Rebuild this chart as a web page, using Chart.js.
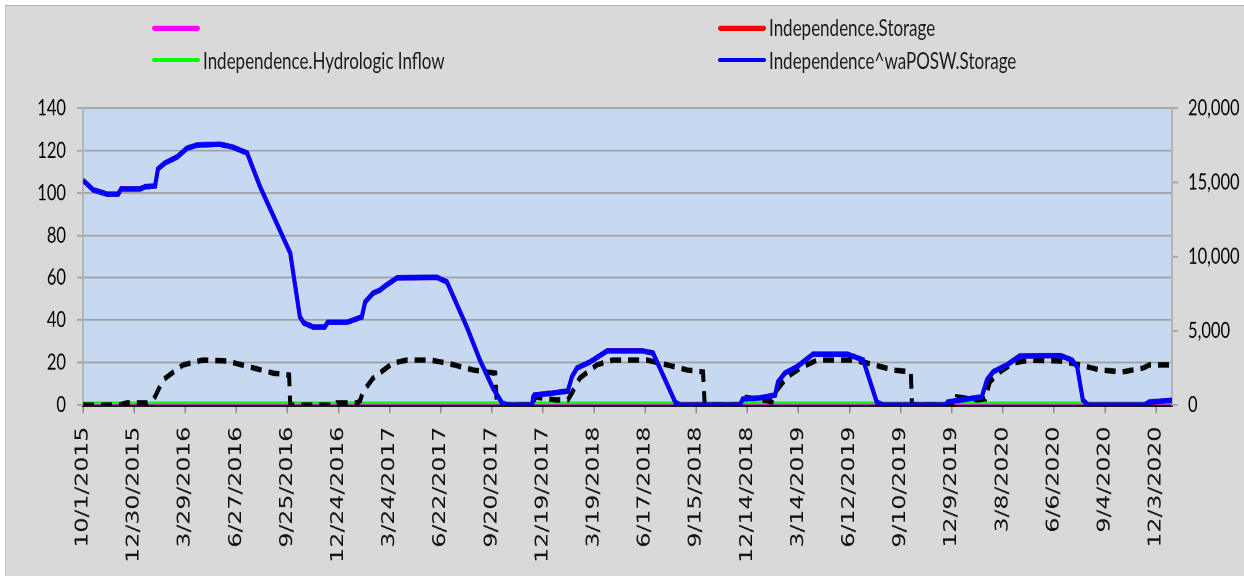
<!DOCTYPE html>
<html><head><meta charset="utf-8">
<script src="https://cdn.jsdelivr.net/npm/chart.js@4.4.1/dist/chart.umd.min.js"></script>
<style>
html,body{margin:0;padding:0;background:#fff;width:1244px;height:576px;overflow:hidden}
#frame{position:absolute;left:5px;top:5px;width:1250px;height:580px;background:#d9d9d9;border-top:1px solid #b4b4b4;border-left:1px solid #c4c4c4;box-sizing:border-box}
#stage{position:absolute;left:0;top:0;width:1244px;height:427px;transform:scaleY(1.349);transform-origin:0 0}
#legend{position:absolute;left:0;top:0;width:1244px;height:70px;font-family:Lato,"Open Sans",sans-serif;font-size:17px;color:#1a1a1a}
.item{position:absolute;display:flex;align-items:center;white-space:nowrap;height:20px}
.sw{width:48px;height:3.6px;border-radius:2px;margin-right:3px}
canvas{position:absolute;left:0;top:0}
</style></head>
<body>
<div id="frame"></div>
<div id="stage"><canvas id="c" width="1244" height="427"></canvas><div id="legend"></div></div>
<script>
// ---- data ----
const startDate = '10/1/2015';
const endDate = '12/31/2020';
const tickLabels = ['10/1/2015','12/30/2015','3/29/2016','6/27/2016','9/25/2016','12/24/2016','3/24/2017','6/22/2017','9/20/2017','12/19/2017','3/19/2018','6/17/2018','9/15/2018','12/14/2018','3/14/2019','6/12/2019','9/10/2019','12/9/2019','3/8/2020','6/6/2020','9/4/2020','12/3/2020'];

// days since 10/1/2015
const storageDays = [0,18,42,62,67,100,109,127,132,144,166,183,201,241,264,289,312,333,361,365,382,389,405,426,431,465,491,497,511,523,535,553,623,641,676,699,722,738,747,791,793,795,827,854,861,870,893,923,986,1004,1043,1051,1157,1162,1192,1219,1224,1236,1257,1286,1346,1374,1398,1409,1520,1523,1545,1583,1592,1603,1627,1650,1721,1742,1751,1761,1770,1870,1878,1914,1918];
// acre-feet (right axis)
const waposwStorage = [15140,14490,14210,14210,14540,14540,14690,14760,15900,16290,16710,17290,17510,17570,17370,16970,14690,12930,10570,10240,5930,5530,5260,5260,5570,5570,5930,6940,7540,7740,8090,8560,8610,8290,5260,3030,1140,140,0,0,540,670,800,940,1890,2490,2900,3640,3640,3500,200,0,0,400,470,670,1540,2140,2560,3430,3430,3030,200,0,0,200,340,540,1690,2230,2700,3300,3330,3030,2570,340,0,0,200,300,300];
const indepStorage = waposwStorage;

const dashedDays = [0,65,77,113,122,127,141,176,211,254,294,335,363,365,444,447,483,488,493,511,546,571,611,641,687,726,729,793,796,833,854,861,875,905,933,993,1029,1064,1092,1095,1157,1162,1196,1213,1222,1240,1263,1293,1351,1381,1427,1458,1460,1536,1539,1576,1589,1597,1615,1638,1668,1721,1756,1791,1831,1867,1878,1918];
const dashedValues = [0,0,1,1,2,4,11.8,18.9,21.2,20.7,17.9,15,14.1,0,0,1,1,2,6.1,12.7,19.8,21.2,21.2,19.8,16.5,15,0,0,3.8,2.4,2.4,5.6,12.7,18.9,21.2,21.2,18.9,16.5,15.6,0,0,3.8,2.4,1.5,7,13.2,17.4,21.2,21.2,19.8,16.5,15.6,0,0,3.8,2.4,2.8,10.8,15.6,19.8,21.2,20.7,18.9,16.5,15.6,17.4,18.9,18.9];

const inflowDays = [0,1918];
const inflowValues = [1,1];
const unnamedDays = [0,1918];
const unnamedValues = [0,0];

const leftTicks = {min:0, max:140, step:20};
const rightTicks = {min:0, max:20000, step:5000};

// ---- helpers ----
function dayOf(s){const [m,d,y]=s.split('/').map(Number);const [m0,d0,y0]=startDate.split('/').map(Number);return Math.round((Date.UTC(y,m-1,d)-Date.UTC(y0,m0-1,d0))/864e5);}
const pts=(xs,ys)=>xs.map((x,i)=>({x:x,y:ys[i]}));

const plotBg={id:'plotBg',beforeDraw(c){const {ctx,chartArea:a}=c;ctx.save();ctx.fillStyle='#c6d9f1';ctx.fillRect(a.left,a.top,a.right-a.left,a.bottom-a.top);ctx.restore();}};

const datasets=[
 {label:'Independence^waPOSW.Storage',data:pts(storageDays,waposwStorage),yAxisID:'y1',borderColor:'#0000ff',borderWidth:4,slot:3},
 {label:'',data:pts(dashedDays,dashedValues),yAxisID:'y',borderColor:'#000000',borderWidth:4,borderDash:[11,7],slot:-1},
 {label:'Independence.Storage',data:pts(storageDays,indepStorage),yAxisID:'y1',borderColor:'#ff0000',borderWidth:4,slot:1},
 {label:'Independence.Hydrologic Inflow',data:pts(inflowDays,inflowValues),yAxisID:'y',borderColor:'#00ff00',borderWidth:2,slot:2},
 {label:'',data:pts(unnamedDays,unnamedValues),yAxisID:'y',borderColor:'#ff00ff',borderWidth:2,slot:0}
];
datasets.forEach(d=>{d.pointRadius=0;d.tension=0;d.fill=false;});

const chart=new Chart(document.getElementById('c'),{
 type:'line',
 data:{datasets:datasets},
 plugins:[plotBg],
 options:{
  responsive:false,animation:false,devicePixelRatio:2,
  layout:{padding:{top:80.1,left:0,right:0,bottom:0}},
  plugins:{legend:{display:false},tooltip:{enabled:false}},
  scales:{
   x:{type:'linear',min:0,max:dayOf(endDate),
      afterBuildTicks:s=>{s.ticks=tickLabels.map(l=>({value:dayOf(l)}));},
      afterFit:s=>{s.height=126.8;},
      ticks:{autoSkip:false,minRotation:90,maxRotation:90,padding:10,color:'#111',font:{family:'DejaVu Sans',size:17.5},callback:(v,i)=>tickLabels[i]},
      grid:{drawOnChartArea:false,drawTicks:true,tickLength:6,color:'#8c8c8c',lineWidth:1.5},
      border:{display:true,color:'#000',width:2.5}},
   y:{position:'left',min:leftTicks.min,max:leftTicks.max,
      afterFit:s=>{s.width=83;},
      ticks:{stepSize:leftTicks.step,padding:11,color:'#000',font:{family:'Lato',size:16.5}},
      grid:{color:'#a0a0a0',lineWidth:1.3,tickLength:6,drawTicks:true},
      border:{display:true,color:'#b4b4b4',width:2}},
   y1:{position:'right',min:rightTicks.min,max:rightTicks.max,
      afterFit:s=>{s.width=72;},
      ticks:{stepSize:rightTicks.step,padding:10,color:'#000',font:{family:'Lato',size:16.5},callback:v=>Number(v).toLocaleString('en-US')},
      grid:{drawOnChartArea:false,drawTicks:true,tickLength:6,color:'#a0a0a0',lineWidth:1.3},
      border:{display:true,color:'#b4b4b4',width:2}}
  }
 }
});

// legend (HTML, built from datasets)
const slotPos=[[152,10.8],[718,10.8],[152,34.5],[718,34.5]];
const lg=document.getElementById('legend');
datasets.filter(d=>d.slot>=0).forEach(d=>{
 const it=document.createElement('div');it.className='item';
 it.style.left=slotPos[d.slot][0]+'px';it.style.top=slotPos[d.slot][1]+'px';
 const sw=document.createElement('span');sw.className='sw';sw.style.background=d.borderColor;
 const tx=document.createElement('span');tx.textContent=d.label;
 it.appendChild(sw);it.appendChild(tx);lg.appendChild(it);
});
</script>
</body></html>
